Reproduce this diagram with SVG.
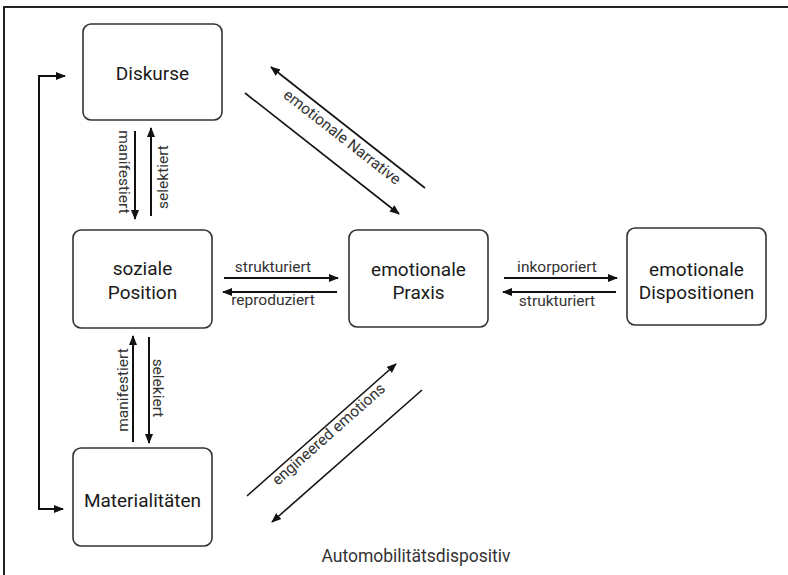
<svg xmlns="http://www.w3.org/2000/svg" width="788" height="575" viewBox="0 0 788 575">
<style>
.box{fill:#fff;stroke:#333;stroke-width:1.6}
.nt{font-family:Roboto,"Liberation Sans",sans-serif;font-size:19px;fill:#1a1a1a;text-anchor:middle}
.lb{font-family:Roboto,"Liberation Sans",sans-serif;font-size:15.5px;fill:#333;text-anchor:middle}
.ln{fill:none;stroke:#111;stroke-width:2}
.dg{fill:none;stroke:#111;stroke-width:1.6}
</style>
<defs>
<marker id="ah" markerUnits="userSpaceOnUse" markerWidth="10" markerHeight="10" viewBox="0 0 10 10" refX="9" refY="5" orient="auto">
<path d="M0,1 L10,5 L0,9 Z" fill="#111"/>
</marker>
</defs>
<rect width="788" height="575" fill="#fff"/>
<path d="M4,575 V7 H788" fill="none" stroke="#222" stroke-width="2"/>

<g id="connectors">
<path class="ln" d="M39,300 V76 H65" marker-end="url(#ah)"/>
<path class="ln" d="M39,299 V509 H63" marker-end="url(#ah)"/>
<line class="ln" x1="135" y1="131" x2="135" y2="219" marker-end="url(#ah)"/>
<line class="ln" x1="151" y1="216" x2="151" y2="128" marker-end="url(#ah)"/>
<line class="ln" x1="133" y1="442" x2="133" y2="336" marker-end="url(#ah)"/>
<line class="ln" x1="149" y1="337" x2="149" y2="443" marker-end="url(#ah)"/>
<line class="ln" x1="224" y1="278" x2="338" y2="278" marker-end="url(#ah)"/>
<line class="ln" x1="337" y1="292" x2="223" y2="292" marker-end="url(#ah)"/>
<line class="ln" x1="504" y1="278" x2="617" y2="278" marker-end="url(#ah)"/>
<line class="ln" x1="616" y1="292" x2="503" y2="292" marker-end="url(#ah)"/>
<line class="dg" x1="425" y1="188" x2="271" y2="67" marker-end="url(#ah)"/>
<line class="dg" x1="245" y1="93" x2="399" y2="214" marker-end="url(#ah)"/>
<line class="dg" x1="247" y1="496" x2="396" y2="364" marker-end="url(#ah)"/>
<line class="dg" x1="422" y1="390" x2="272" y2="522" marker-end="url(#ah)"/>
<text class="lb" transform="translate(119,172) rotate(90)">manifestiert</text>
<text class="lb" transform="translate(168,177) rotate(-90)">selektiert</text>
<text class="lb" transform="translate(128,390) rotate(-90)">manifestiert</text>
<text class="lb" transform="translate(153,388) rotate(90)">selekiert</text>
<text class="lb" x="273" y="272">strukturiert</text>
<text class="lb" x="273" y="305">reproduziert</text>
<text class="lb" x="557" y="272">inkorporiert</text>
<text class="lb" x="557" y="306">strukturiert</text>
<text class="lb" transform="translate(339,141) rotate(38)">emotionale Narrative</text>
<text class="lb" transform="translate(332,438) rotate(-41.5)">engineered emotions</text>
</g>

<g id="n-diskurse">
<rect class="box" x="83" y="24" width="139" height="96" rx="8"/>
<text class="nt" x="152.5" y="80">Diskurse</text>
</g>
<g id="n-soziale">
<rect class="box" x="73" y="230" width="139" height="98" rx="8"/>
<text class="nt" x="142.5" y="275">soziale</text>
<text class="nt" x="142.5" y="299">Position</text>
</g>
<g id="n-praxis">
<rect class="box" x="349" y="230" width="139" height="97" rx="8"/>
<text class="nt" x="418.5" y="276">emotionale</text>
<text class="nt" x="418.5" y="299">Praxis</text>
</g>
<g id="n-dispositionen">
<rect class="box" x="627" y="228" width="139" height="97" rx="8"/>
<text class="nt" x="696.5" y="276">emotionale</text>
<text class="nt" x="696.5" y="299">Dispositionen</text>
</g>
<g id="n-materialitaeten">
<rect class="box" x="73" y="448" width="139" height="98" rx="8"/>
<text class="nt" x="142.5" y="507">Materialitäten</text>
</g>
<text x="416" y="562" font-family="Roboto,'Liberation Sans',sans-serif" font-size="17.5" fill="#333" text-anchor="middle">Automobilitätsdispositiv</text>
</svg>
